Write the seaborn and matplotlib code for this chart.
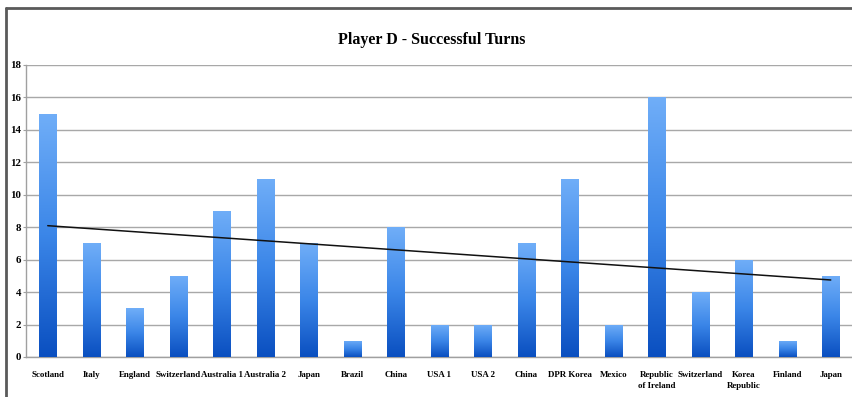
import numpy as np
import pandas as pd
import matplotlib
matplotlib.use("Agg")
import matplotlib.pyplot as plt
import seaborn as sns
from matplotlib.colors import LinearSegmentedColormap
from matplotlib.lines import Line2D

categories = ["Scotland", "Italy", "England", "Switzerland", "Australia 1", "Australia 2",
              "Japan", "Brazil", "China", "USA 1", "USA 2", "China", "DPR Korea", "Mexico",
              "Republic\nof Ireland", "Switzerland", "Korea\nRepublic", "Finland", "Japan"]
values = [15, 7, 3, 5, 9, 11, 7, 1, 8, 2, 2, 7, 11, 2, 16, 4, 6, 1, 5]
yticks = [0, 2, 4, 6, 8, 10, 12, 14, 16, 18]
title = "Player D - Successful Turns"

sns.set_theme(style="white")
plt.rcParams['font.family'] = ['Liberation Serif', 'DejaVu Serif']
plt.rcParams['text.color'] = 'black'
plt.rcParams['xtick.labelcolor'] = 'black'
plt.rcParams['ytick.labelcolor'] = 'black'

df = pd.DataFrame({"pos": np.arange(len(values)), "val": values})

fig = plt.figure(figsize=(8.52, 3.97), dpi=100)
W, H = 852, 397
ax = fig.add_axes([26 / W, 1 - 357 / H, (852.5 - 26) / W, (357 - 65) / H])

sns.barplot(data=df, x="pos", y="val", ax=ax, width=0.4, color="#3a80e0", saturation=1)

ax.set_xlim(-0.5, len(values) - 0.5)
ax.set_ylim(0, 18)

cmap = LinearSegmentedColormap.from_list("bluegrad", ["#0a4fc0", "#3b86e8", "#70aef8"])
grad = np.linspace(0, 1, 256).reshape(-1, 1)
for p in ax.patches:
    x0, y0 = p.get_x(), p.get_y()
    w, h = p.get_width(), p.get_height()
    im = ax.imshow(grad, extent=[x0, x0 + w, y0, y0 + h], origin="lower",
                   aspect="auto", cmap=cmap, zorder=3, interpolation="bilinear")
    im.set_clip_path(p)
    p.set_facecolor("none")
    p.set_edgecolor("none")
ax.set_xlim(-0.5, len(values) - 0.5)
ax.set_ylim(0, 18)

# linear trendline
xs = np.arange(len(values))
coef = np.polyfit(xs, values, 1)
ax.plot([xs[0], xs[-1]], np.polyval(coef, [xs[0], xs[-1]]), color="#111111", lw=1.1, zorder=4)

ax.set_yticks(yticks)
ax.set_yticklabels([str(v) for v in yticks], fontsize=7.8, fontweight="bold", color="black")
ax.yaxis.grid(True, color="#a8a8a8", lw=1)
ax.set_axisbelow(True)
ax.set_xticks(xs)
ax.set_xticklabels(categories, fontsize=6.4, fontweight="bold", linespacing=1.6, color="black")
ax.set_xticks(np.arange(-0.5, len(values)), minor=True)
ax.tick_params(axis="x", which="major", length=0, pad=10)
ax.tick_params(axis="x", which="minor", length=3, color="#a0a0a0", width=0.8, direction="out")
ax.tick_params(axis="y", length=2.5, color="#a0a0a0", width=0.8, direction="out", pad=1, left=True)
ax.set_xlabel("")
ax.set_ylabel("")
for s in ["top", "right"]:
    ax.spines[s].set_visible(False)
ax.spines["left"].set_color("#a0a0a0")
ax.spines["left"].set_linewidth(1)
ax.spines["bottom"].set_color("#a0a0a0")
ax.spines["bottom"].set_linewidth(1)

fig.text(432 / W, 1 - 40 / H, title, ha="center", va="center", fontsize=11.5,
         fontweight="bold", color="black")

# outer frame (chart cropped at right/bottom)
fig.add_artist(Line2D([6 / W, 6 / W], [0, 1 - 8 / H], color="#5a5a5a", lw=2, transform=fig.transFigure))
fig.add_artist(Line2D([6 / W, 1], [1 - 8 / H, 1 - 8 / H], color="#5a5a5a", lw=2, transform=fig.transFigure))

fig.savefig("out.png", dpi=100)
